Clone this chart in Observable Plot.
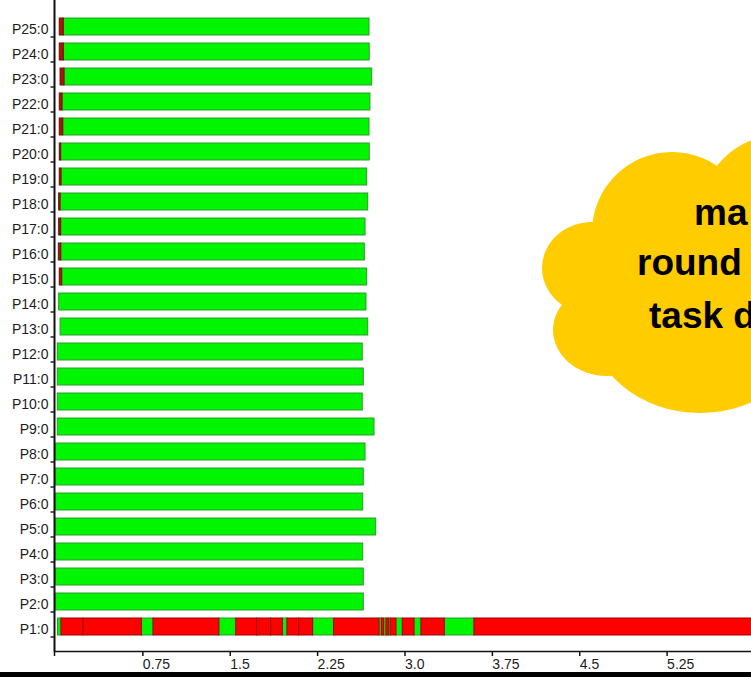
<!DOCTYPE html>
<html>
<head>
<meta charset="utf-8">
<script src="https://cdn.jsdelivr.net/npm/d3@7"></script>
<script src="https://cdn.jsdelivr.net/npm/@observablehq/plot@0.6"></script>
<style>
  html, body { margin: 0; padding: 0; background: #000; overflow: hidden; }
  #chart { width: 751px; height: 672px; background: #fff; }
</style>
</head>
<body>
<div id="chart"></div>
<script>
// Processor rows, bottom (P1) to top (P25)
const processes = d3.range(1, 26).map(i => `P${i}:0`);

// P2 .. P25: busy interval (green) and the short start-up phase before it, in seconds
const runStart = [0.009, 0.009, 0.009, 0.009, 0.009, 0.009, 0.009, 0.028, 0.028, 0.028, 0.028, 0.052, 0.040,
                  0.066, 0.058, 0.057, 0.052, 0.060, 0.057, 0.075, 0.069, 0.086, 0.080, 0.080];
const runEnd   = [2.655, 2.655, 2.650, 2.761, 2.650, 2.655, 2.670, 2.747, 2.646, 2.655, 2.646, 2.693, 2.678,
                  2.684, 2.664, 2.670, 2.693, 2.684, 2.706, 2.704, 2.712, 2.727, 2.706, 2.704];
const setupStart = [null, null, null, null, null, null, null, null, null, null, null, null, null,
                    0.045, 0.037, 0.040, 0.040, 0.045, 0.045, 0.045, 0.045, 0.052, 0.045, 0.045];

// P1: segment boundaries and the state of each segment between them
const p1Edges = [0.03, 0.06, 0.25, 0.75, 0.85, 1.415, 1.56, 1.74, 1.86, 1.96, 2.0, 2.1, 2.22, 2.40,
                 2.79, 2.81, 2.83, 2.85, 2.87, 2.885, 2.935, 2.99, 3.09, 3.15, 3.35, 3.605, 6.2];
const p1States = ["run", "wait", "wait", "run", "wait", "run", "wait", "wait", "wait", "run", "wait", "wait",
                  "run", "wait", "run", "wait", "run", "wait", "run", "wait", "run", "wait", "run", "wait",
                  "run", "wait"];

// Time axis ticks
const xTicks = [0.75, 1.5, 2.25, 3.0, 3.75, 4.5, 5.25];
const xTickLabels = ["0.75", "1.5", "2.25", "3.0", "3.75", "4.5", "5.25"];

// Build the segment table
const segments = [];
processes.slice(1).forEach((p, i) => {
  if (setupStart[i] != null) segments.push({proc: p, start: setupStart[i], end: runStart[i], state: "setup"});
  segments.push({proc: p, start: runStart[i], end: runEnd[i], state: "run"});
});
p1States.forEach((s, i) => segments.push({proc: "P1:0", start: p1Edges[i], end: p1Edges[i + 1], state: s}));

const styleOf = {
  run:   {fill: "#00f500", stroke: "#2f9a2f"},
  wait:  {fill: "#ff0000", stroke: "#a00000"},
  setup: {fill: "#a81606", stroke: "#701000"}
};

const font = "'Liberation Sans', Arial, sans-serif";

const bars = Object.keys(styleOf).map(state =>
  Plot.barX(segments.filter(d => d.state === state), {
    y: "proc", x1: "start", x2: "end",
    fill: styleOf[state].fill, stroke: styleOf[state].stroke,
    strokeWidth: 1, insetTop: 4, insetBottom: 4, clip: true
  })
);

const plot = Plot.plot({
  width: 751,
  height: 672,
  marginLeft: 54,
  marginRight: 0,
  marginTop: 2,
  marginBottom: 21,
  style: {background: "#fff", fontFamily: font, fontSize: "14px", color: "#1c1c1c"},
  x: {domain: [0, 5.983]},
  y: {domain: processes.slice().reverse(), padding: 0},
  marks: [
    ...bars,
    Plot.ruleX([0], {stroke: "#111", strokeWidth: 2, insetTop: -2}),
    Plot.frame({anchor: "bottom", stroke: "#111", strokeWidth: 1.5}),
    Plot.ruleY(processes, {x1: -0.03, x2: 0, dy: 10, stroke: "#222", strokeWidth: 1.5}),
    Plot.axisY({tickSize: 0, tickPadding: 6, dy: 3, label: null, fontSize: 14}),
    Plot.axisX({ticks: xTicks, tickFormat: (d, i) => xTickLabels[i], tickSize: 5, tickPadding: 3,
                textAnchor: "start", dx: 1, label: null, stroke: "#111", strokeWidth: 1.5, fontSize: 14}),
    Plot.axisX({ticks: [0], tickFormat: () => "", tickSize: 5, label: null, stroke: "#111", strokeWidth: 1.5})
  ]
});

document.getElementById("chart").appendChild(plot);

// Callout cloud over the right side of the timeline
const lobes = [
  {cx: 672, cy: 232, rx: 80, ry: 80},
  {cx: 780, cy: 215, rx: 80, ry: 80},
  {cx: 592, cy: 268, rx: 50, ry: 46},
  {cx: 607, cy: 330, rx: 54, ry: 46},
  {cx: 700, cy: 320, rx: 110, ry: 93},
  {cx: 720, cy: 280, rx: 120, ry: 110}
];
const calloutLines = [
  {text: "ma", x: 694, y: 225},
  {text: "round", x: 637, y: 275},
  {text: "task d", x: 649, y: 328}
];
const g = d3.select(plot).append("g");
g.selectAll("ellipse").data(lobes).join("ellipse")
  .attr("cx", d => d.cx).attr("cy", d => d.cy)
  .attr("rx", d => d.rx).attr("ry", d => d.ry)
  .attr("fill", "#ffcc00");
g.selectAll("text").data(calloutLines).join("text")
  .attr("x", d => d.x).attr("y", d => d.y)
  .attr("text-anchor", "start")
  .attr("font-family", font).attr("font-weight", "bold").attr("font-size", 37)
  .attr("fill", "#000")
  .text(d => d.text);
</script>
</body>
</html>
